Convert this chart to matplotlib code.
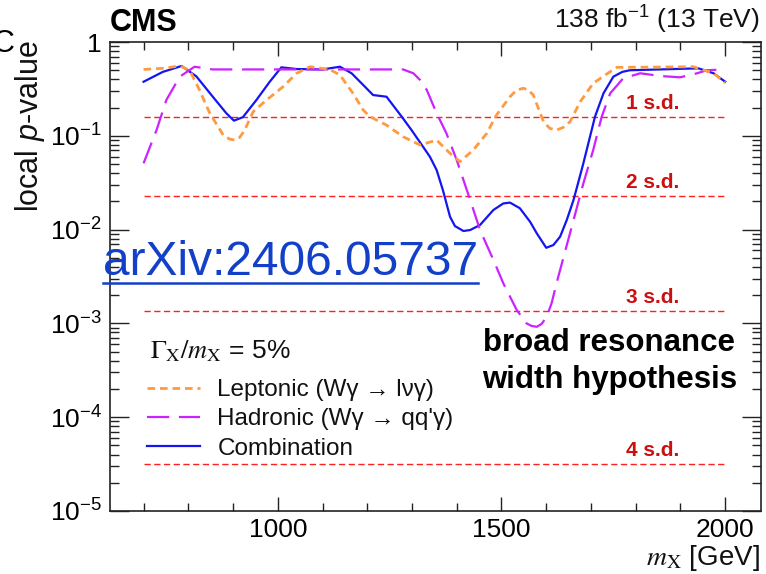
import numpy as np
import matplotlib
matplotlib.use('Agg')
import matplotlib.pyplot as plt
from matplotlib.ticker import LogLocator, MultipleLocator, NullFormatter, FuncFormatter
from matplotlib.lines import Line2D

plt.rcParams['font.family'] = ['Liberation Sans', 'DejaVu Sans']
plt.rcParams['mathtext.fontset'] = 'custom'
plt.rcParams['mathtext.rm'] = 'Liberation Sans'
plt.rcParams['mathtext.it'] = 'Liberation Sans:italic'
plt.rcParams['mathtext.bf'] = 'Liberation Sans:bold'
plt.rcParams['lines.scale_dashes'] = False

# local p-values vs resonance mass (GeV), 5% width hypothesis
m_lep = [700, 743, 781, 803, 825, 848, 878, 892, 904, 915, 926, 945, 975, 1012, 1042,
         1072, 1116, 1139, 1168, 1191, 1206, 1243, 1280, 1318, 1355, 1385, 1407,
         1437, 1467, 1489, 1519, 1534, 1549, 1560, 1571, 1594, 1608, 1623, 1638,
         1653, 1676, 1705, 1743, 1758, 1850, 1929, 1974, 2000]
p_lep = [0.51, 0.524, 0.555, 0.5, 0.308, 0.174, 0.102, 0.0924, 0.090, 0.0964, 0.115,
         0.181, 0.241, 0.334, 0.464, 0.545, 0.51, 0.445, 0.284, 0.188, 0.16, 0.130,
         0.0978, 0.0798, 0.090, 0.065, 0.053, 0.0706, 0.106, 0.167, 0.261, 0.308,
         0.321, 0.308, 0.272, 0.141, 0.12, 0.115, 0.123, 0.141, 0.231, 0.363, 0.483,
         0.537, 0.54, 0.545, 0.464, 0.368]

m_had = [700, 729, 751, 781, 814, 855, 1000, 1150, 1280, 1303, 1318, 1333, 1355,
         1377, 1400, 1430, 1452, 1482, 1504, 1534, 1556, 1567, 1579, 1590, 1601,
         1612, 1623, 1653, 1683, 1705, 1724, 1743, 1772, 1810, 1855, 1899, 1937,
         1959, 2000]
p_had = [0.0509, 0.115, 0.241, 0.427, 0.545, 0.51, 0.51, 0.51, 0.51, 0.464, 0.394,
         0.308, 0.174, 0.106, 0.055, 0.0207, 0.0099, 0.00474, 0.00268, 0.00139,
         0.001, 0.00094, 0.00092, 0.00099, 0.00118, 0.00164, 0.00268, 0.0091,
         0.0311, 0.0706, 0.16, 0.284, 0.41, 0.464, 0.434, 0.42, 0.464, 0.5, 0.51]

m_comb = [700, 743, 785, 818, 855, 885, 902, 922, 952, 982, 1008, 1042, 1100, 1139,
          1165, 1191, 1213, 1243, 1277, 1299, 1318, 1340, 1355, 1369, 1379, 1385,
          1396, 1415, 1430, 1452, 1482, 1504, 1519, 1541, 1564, 1579, 1600, 1616,
          1631, 1646, 1661, 1672, 1683, 1709, 1728, 1750, 1770, 1787, 1855, 1940,
          1974, 2000]
p_comb = [0.377, 0.48, 0.555, 0.43, 0.26, 0.174, 0.145, 0.158, 0.24, 0.377, 0.537,
          0.515, 0.51, 0.545, 0.464, 0.348, 0.272, 0.261, 0.16, 0.115, 0.085,
          0.0598, 0.0432, 0.0264, 0.0175, 0.0137, 0.0109, 0.00966, 0.0099, 0.0112,
          0.0162, 0.019, 0.0194, 0.0169, 0.0121, 0.0091, 0.0064, 0.00685, 0.0084,
          0.0127, 0.0207, 0.0324, 0.051, 0.16, 0.284, 0.427, 0.48, 0.5, 0.51, 0.524,
          0.464, 0.377]

sd_labels = ['1 s.d.', '2 s.d.', '3 s.d.', '4 s.d.']
sd_pvalues = [0.1587, 0.02275, 0.00135, 3.167e-5]
sd_range = [700, 2000]
sd_label_mass = 1837

W, H = 766, 574
fig = plt.figure(figsize=(W / 100, H / 100), dpi=100)
ax = fig.add_axes([110 / W, 1 - 511 / H, 651 / W, 469 / H])

for lab, pv in zip(sd_labels, sd_pvalues):
    ax.plot(sd_range, [pv, pv], color='#ff2020', lw=1.0, dashes=(4.5, 2.5), zorder=1)
    ax.annotate(lab, (sd_label_mass, pv), xytext=(0, 3), textcoords='offset points',
                ha='center', va='bottom', color='#cc1010', fontsize=15, fontweight='bold')

l_comb, = ax.plot(m_comb, p_comb, color='#1515f0', lw=1.6, zorder=3)
l_had, = ax.plot(m_had, p_had, color='#cc22ff', lw=1.6, dashes=(16, 7), zorder=4)
l_lep, = ax.plot(m_lep, p_lep, color='#ff9a40', lw=2.0, dashes=(5.5, 3.5), zorder=5)

ax.set_yscale('log')
ax.set_xlim(625, 2080)
ax.set_ylim(1e-5, 1)

ax.xaxis.set_major_locator(MultipleLocator(500))
ax.xaxis.set_minor_locator(MultipleLocator(100))
ax.yaxis.set_major_locator(LogLocator(base=10, numticks=10))
ax.yaxis.set_minor_locator(LogLocator(base=10, subs=range(2, 10), numticks=20))
ax.yaxis.set_minor_formatter(NullFormatter())


def ylab(v, pos):
    if v >= 0.999:
        return '1'
    return r'$10^{%d}$' % round(np.log10(v))


ax.yaxis.set_major_formatter(FuncFormatter(ylab))

ax.tick_params(which='both', direction='in', top=True, right=True, labelsize=19,
               width=1.0, color='#222222')
ax.tick_params(axis='x', which='major', length=10, pad=5)
ax.tick_params(axis='x', which='minor', length=5.5)
ax.tick_params(axis='y', which='major', length=13.5, pad=6)
ax.tick_params(axis='y', which='minor', length=6.5)
for s in ax.spines.values():
    s.set_linewidth(1.2)
    s.set_color('#222222')

leg = ax.legend([l_lep, l_had, l_comb],
                ['Leptonic (W\u03b3 \u2192 l\u03bd\u03b3)',
                 "Hadronic (W\u03b3 \u2192 qq'\u03b3)",
                 'Combination'],
                loc='upper left', bbox_to_anchor=((147 - 110) / 651, (511 - 379) / 469),
                frameon=False, fontsize=17.5, handlelength=2.2, handletextpad=0.7,
                labelspacing=0.3, borderpad=0, borderaxespad=0)
for t in leg.get_texts():
    t.set_color('#111111')

fig.text(150 / W, 1 - 358 / H, r'$\Gamma_\mathrm{X}/m_\mathrm{X}$ = 5%', fontsize=19,
         math_fontfamily='stix', va='baseline', color='#111111')

# header
fig.text(110 / W, 1 - 31 / H, 'CMS', fontsize=22, fontweight='bold', va='baseline')
fig.text(760 / W, 1 - 29 / H, r'138 fb$^{-1}$ (13 TeV)', fontsize=19, ha='right',
         va='baseline', color='#111111')
fig.text(-8 / W, 1 - 52 / H, 'C', fontsize=22, va='baseline')

# axis titles
fig.text(30 / W, 1 - 40 / H, r'local $p$-value', fontsize=22, rotation=90,
         ha='center', va='top', color='#111111')
fig.text(760 / W, 1 - 565 / H, r'$m_\mathrm{X}$ [GeV]', fontsize=20, ha='right',
         va='baseline', math_fontfamily='stix', color='#111111')

# annotation text
fig.text(609 / W, 1 - 351 / H, 'broad resonance', fontsize=22.5, fontweight='bold',
         ha='center', va='baseline')
fig.text(610 / W, 1 - 388 / H, 'width hypothesis', fontsize=22.5, fontweight='bold',
         ha='center', va='baseline')

# arXiv reference with underline
fig.text(103 / W, 1 - 275 / H, 'arXiv:2406.05737', fontsize=34.5, color='#1240c8',
         va='baseline')
fig.add_artist(Line2D([103 / W, 478 / W], [1 - 283 / H, 1 - 283 / H],
                      color='#1240c8', lw=1.8, transform=fig.transFigure))

fig.savefig('out.png', dpi=100)
